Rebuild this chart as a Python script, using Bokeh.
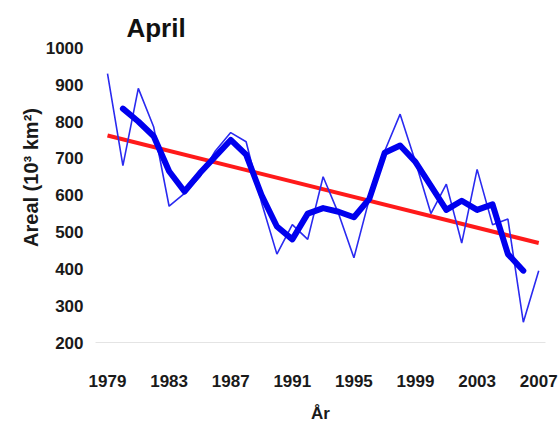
from bokeh.plotting import figure
from bokeh.models import FixedTicker, Range1d
from bokeh.core.properties import value
from bokeh.embed import file_html
from bokeh.resources import INLINE

# Annual April sea-ice area (10^3 km^2)
years = list(range(1979, 2008))
april_area = [930, 680, 890, 785, 570, 605, 650, 720, 770, 745, 580, 440, 520, 480,
              650, 550, 430, 590, 720, 820, 690, 550, 630, 470, 670, 520, 535, 255, 395]

# 3-year running mean
smooth_years = list(range(1980, 2007))
smooth_area = [835, 800, 760, 665, 610, 660, 705, 750, 710, 600, 515, 480, 550, 565,
               555, 540, 590, 715, 735, 690, 625, 560, 585, 560, 575, 440, 395]

# Linear trend endpoints
trend_years = [1979, 2007]
trend_area = [762, 470]

x_ticks = [1979, 1983, 1987, 1991, 1995, 1999, 2003, 2007]
y_ticks = [200, 300, 400, 500, 600, 700, 800, 900, 1000]

title_text = ["April"]
title_x = [1980.23]
title_y = [1054]

FONT = "Liberation Sans"

p = figure(width=558, height=425, output_backend="svg", toolbar_location=None,
           x_range=Range1d(1978.22, 2007.44), y_range=Range1d(200, 1096),
           min_border_left=95, min_border_right=13, min_border_top=12, min_border_bottom=78)

p.outline_line_color = None
p.xgrid.visible = False
p.ygrid.visible = False
p.background_fill_color = "white"
p.border_fill_color = "white"

p.line(trend_years, trend_area, line_color="#ff1a1a", line_width=4)
p.line(years, april_area, line_color="#2a2af0", line_width=1.6)
p.line(smooth_years, smooth_area, line_color="#0000ee", line_width=6, line_join="round", line_cap="round")

p.text(x=title_x, y=title_y, text=title_text, text_font=value(FONT), text_font_size="26px",
       text_font_style="bold", text_color="#111111", text_baseline="alphabetic", text_align="left")

p.xaxis.ticker = FixedTicker(ticks=x_ticks)
p.yaxis.ticker = FixedTicker(ticks=y_ticks)

for ax in (p.xaxis[0], p.yaxis[0]):
    ax.major_tick_line_color = None
    ax.minor_tick_line_color = None
    ax.major_tick_out = 0
    ax.major_tick_in = 0
    ax.major_label_text_font = FONT
    ax.major_label_text_font_size = "17px"
    ax.major_label_text_font_style = "bold"
    ax.major_label_text_color = "#1a1a1a"
    ax.axis_label_text_font = FONT
    ax.axis_label_text_font_style = "bold"
    ax.axis_label_text_color = "#1a1a1a"

p.xaxis.axis_line_color = "#e4e4e4"
p.yaxis.axis_line_color = None

p.xaxis.major_label_standoff = 32
p.yaxis.major_label_standoff = 12

p.xaxis.axis_label = "År"
p.xaxis.axis_label_text_font_size = "17px"
p.xaxis.axis_label_standoff = 14

p.yaxis.axis_label = "Areal (10³ km²)"
p.yaxis.axis_label_text_font_size = "20px"
p.yaxis.axis_label_standoff = 1

open("out.html", "w").write(file_html(p, INLINE))
